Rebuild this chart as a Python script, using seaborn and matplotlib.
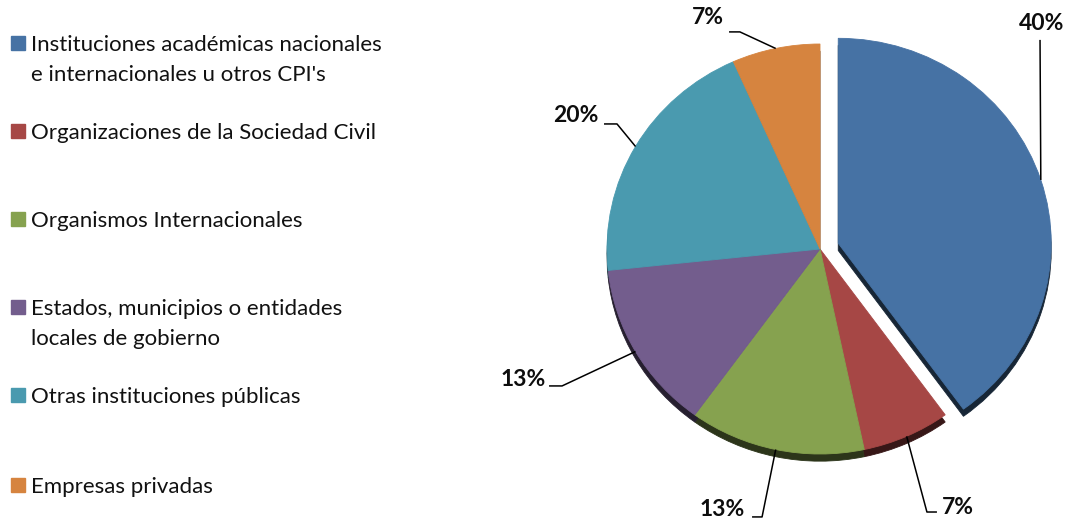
import matplotlib
matplotlib.use("Agg")
import matplotlib.pyplot as plt
import numpy as np
import seaborn as sns
from matplotlib.colors import to_rgb
from matplotlib.patches import Rectangle

sns.set_theme(style="white")
plt.rcParams["font.family"] = ["Lato", "DejaVu Sans"]

# ---------------------------------------------------------------------
# data
# ---------------------------------------------------------------------
CATEGORIES = [
    "Instituciones académicas nacionales\ne internacionales u otros CPI's",
    "Organizaciones de la Sociedad Civil",
    "Organismos Internacionales",
    "Estados, municipios o entidades\nlocales de gobierno",
    "Otras instituciones públicas",
    "Empresas privadas",
]
COUNTS = [6, 1, 2, 2, 3, 1]
COLORS = ["#4672A4", "#A64745", "#86A24F", "#735D8D", "#4A9AAF", "#D6843F"]
EXPLODE = [0.09, 0, 0, 0, 0, 0]

total = sum(COUNTS)
pct_labels = [f"{round(100 * c / total)}%" for c in COUNTS]

W, H = 1067, 521
fig = plt.figure(figsize=(W / 100, H / 100), dpi=100)


def px(x, y):
    """pixel position (from top-left) -> figure fraction"""
    return x / W, 1 - y / H


# pie axes: centre at (820, 249) px, slightly flattened (rx 213, ry 205)
RX, RY, CX, CY, LIM = 213, 205, 820, 249, 1.4
ax = fig.add_axes([(CX - LIM * RX) / W, (H - CY - LIM * RY) / H,
                   2 * LIM * RX / W, 2 * LIM * RY / H])

# dark "depth" layer drawn under the pie
dark = [tuple(0.33 * np.array(to_rgb(c))) for c in COLORS]
under, _ = ax.pie(COUNTS, colors=dark, startangle=90, counterclock=False,
                  explode=EXPLODE, center=(0, -0.035), radius=1.0,
                  wedgeprops=dict(linewidth=0.6))
wedges, _ = ax.pie(COUNTS, colors=COLORS, startangle=90, counterclock=False,
                   explode=EXPLODE, radius=1.0, wedgeprops=dict(linewidth=0.6))
for w in list(under) + list(wedges):
    w.set_edgecolor(w.get_facecolor())

ax.set_xlim(-LIM, LIM)
ax.set_ylim(-LIM, LIM)
ax.set_aspect("auto")
ax.axis("off")

# leader lines: (elbow, horizontal end, text pos, ha)
LEADERS = [
    ((1.033, 1.020), (1.033, 1.020), (1.042, 1.098), "center"),
    ((0.502, -1.283), (0.549, -1.283), (0.573, -1.259), "left"),
    ((-0.272, -1.307), (-0.319, -1.307), (-0.352, -1.273), "right"),
    ((-1.211, -0.668), (-1.272, -0.668), (-1.286, -0.639), "right"),
    ((-0.953, 0.610), (-1.014, 0.610), (-1.038, 0.649), "right"),
    ((-0.376, 1.059), (-0.427, 1.059), (-0.451, 1.127), "right"),
]
for w, lab, (elbow, hend, tpos, ha) in zip(wedges, pct_labels, LEADERS):
    mid = np.deg2rad((w.theta1 + w.theta2) / 2)
    ax0 = w.center[0] + w.r * np.cos(mid)
    ay0 = w.center[1] + w.r * np.sin(mid)
    ax.plot([ax0, elbow[0], hend[0]], [ay0, elbow[1], hend[1]],
            color="black", lw=1.1, solid_capstyle="butt", clip_on=False)
    ax.text(tpos[0], tpos[1], lab, ha=ha, va="center", fontsize=16.5,
            fontweight="bold", color="#0d0d0d")

# legend, drawn by hand to keep Excel-like spacing
LEG_Y = [45, 133, 221, 309, 397, 487]
for lab, col, y in zip(CATEGORIES, COLORS, LEG_Y):
    x0, y0 = px(11, y + 5)
    fig.patches.append(Rectangle((x0, y0), 14 / W, 14 / H, color=col,
                                 transform=fig.transFigure, figure=fig))
    tx, ty = px(31, y - 10)
    fig.text(tx, ty, lab, ha="left", va="top", fontsize=16,
             color="#111111", linespacing=1.65)

fig.savefig("out.png", dpi=100, facecolor="white")
